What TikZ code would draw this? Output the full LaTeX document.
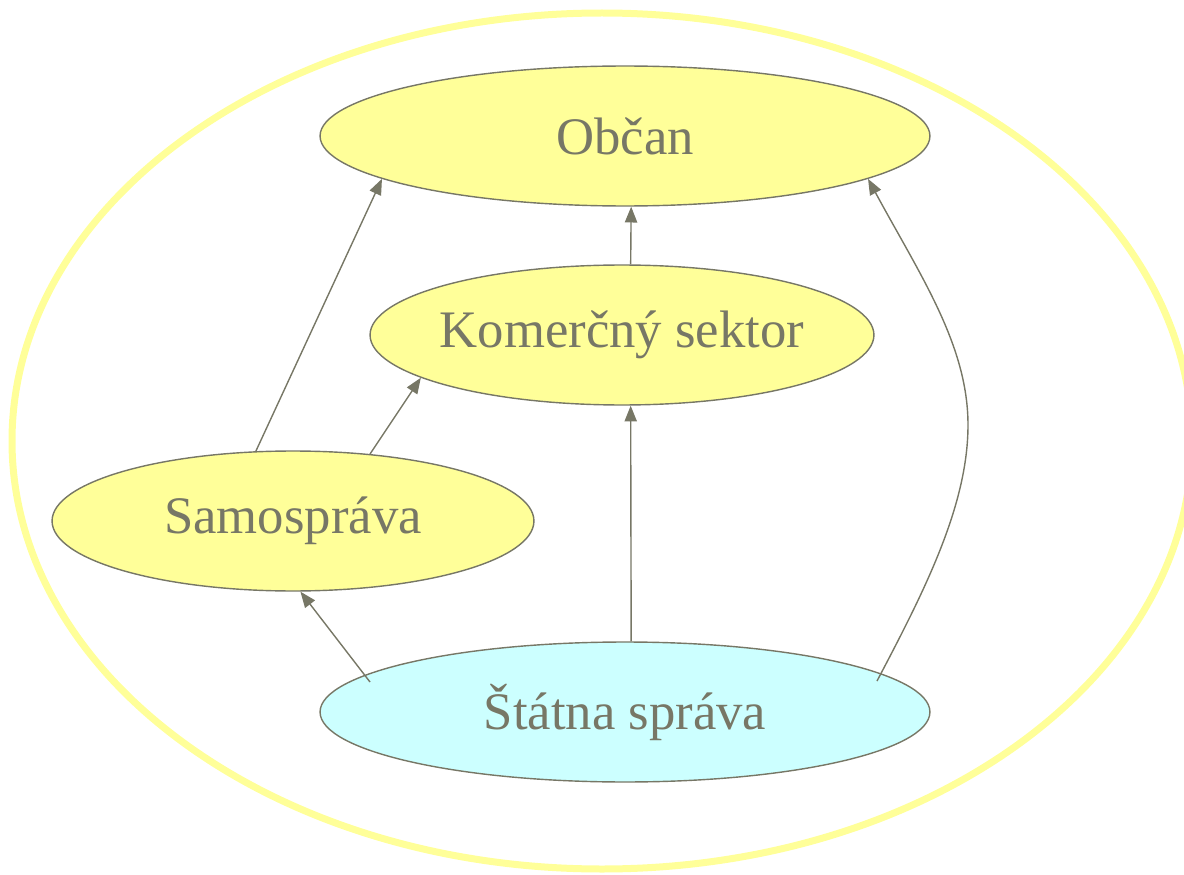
\documentclass[tikz,border=0pt]{standalone}
\usepackage{fontspec}
\setmainfont{Liberation Serif}
\definecolor{nodeyellow}{HTML}{FFFF99}
\definecolor{nodecyan}{HTML}{CCFFFF}
\definecolor{edgegray}{HTML}{777766}
\usetikzlibrary{shapes.geometric, arrows.meta, positioning, calc}

\begin{document}
\begin{tikzpicture}[x=0.02cm, y=-0.02cm,
    actor/.style={ellipse, draw=edgegray, line width=0.8pt, fill=nodeyellow,
      inner xsep=-0.12cm, inner ysep=0pt, minimum height=2.8cm, text=edgegray,
      font=\fontsize{30}{36}\selectfont},
    link/.style={draw=edgegray, line width=0.8pt, -{Triangle[length=9pt, width=7pt]}}]
  \useasboundingbox (0,0) rectangle (1184,875);
  % outer frame
  \draw[nodeyellow, line width=0.14cm] (602,441) ellipse [x radius=590, y radius=428];

  \node[actor, minimum width=12.2cm] (obcan) at (625,136) {Občan};
  \node[actor, minimum width=10.08cm] (komerc) at (622,335) {Komerčný sektor};
  \node[actor, minimum width=9.64cm] (samo) at (293,521) {Samospráva};
  \node[actor, minimum width=12.2cm, fill=nodecyan] (statna) at (625,712) {Štátna správa};

  \draw[link] (samo.118) -- (obcan.190);
  \draw[link] (samo.41) -- (komerc.192);
  \draw[link] (komerc.83) -- (obcan.275);
  \draw[link] (statna.85) -- (komerc.277);
  \draw[link] ($(statna.center)+(-255,-30)$) -- (samo.276);
  \draw[link] ($(statna.center)+(252,-31)$) .. controls (925,590) and (968,505) .. (968,425)
    .. controls (968,345) and (920,275) .. (obcan.350);
\end{tikzpicture}
\end{document}
